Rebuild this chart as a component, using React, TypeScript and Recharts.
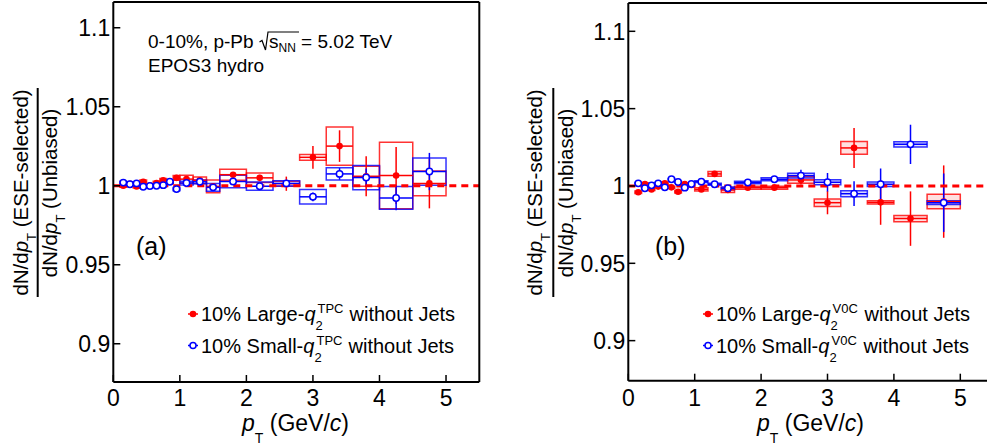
import React from 'react';
import { ScatterChart, Scatter, XAxis, YAxis, ErrorBar, ReferenceArea, ReferenceLine } from 'recharts';

// pT bins (GeV/c): centres and half widths
const ptCenters = [0.15, 0.25, 0.35, 0.45, 0.55, 0.65, 0.75, 0.85, 0.95, 1.1, 1.3, 1.5, 1.8, 2.2, 2.6, 3.0, 3.4, 3.8, 4.25, 4.75];
const ptHalfWidths = [0.05, 0.05, 0.05, 0.05, 0.05, 0.05, 0.05, 0.05, 0.05, 0.1, 0.1, 0.1, 0.2, 0.2, 0.2, 0.2, 0.2, 0.2, 0.25, 0.25];

const xTicks = [0, 1, 2, 3, 4, 5];
const yTicks = [0.9, 0.95, 1, 1.05, 1.1];

// (a) TPC selection
const aLargeVal = [1.0, 1.0013, 0.9996, 1.0025, 1.0002, 1.0017, 1.0034, 1.0025, 1.005, 1.0042, 1.0035, 0.9996, 1.007, 1.005, 1.0013, 1.018, 1.0251, 1.006, 1.0065, 1.0015];
const aLargeStat = [0.0006, 0.0006, 0.0006, 0.0006, 0.0006, 0.0006, 0.0007, 0.0007, 0.0008, 0.0009, 0.0011, 0.0013, 0.0016, 0.0019, 0.0045, 0.0072, 0.01, 0.0127, 0.018, 0.0158];
const aLargeSys = [0.001, 0.001, 0.001, 0.0012, 0.001, 0.0012, 0.0012, 0.0012, 0.0015, 0.0025, 0.002, 0.004, 0.0035, 0.003, 0.0016, 0.0018, 0.0121, 0.0063, 0.021, 0.0079];

const aSmallVal = [1.002, 1.001, 1.0015, 0.9994, 0.9998, 1.0, 1.0004, 1.0025, 0.9979, 1.0017, 1.0025, 0.999, 1.0027, 0.9997, 1.0015, 0.993, 1.0075, 1.0052, 0.9923, 1.009];
const aSmallStat = [0.0005, 0.0005, 0.0005, 0.0005, 0.0005, 0.0005, 0.0006, 0.0006, 0.0007, 0.0008, 0.001, 0.0012, 0.0014, 0.0017, 0.0022, 0.0028, 0.0037, 0.0058, 0.0078, 0.0118];
const aSmallSys = [0.0008, 0.0008, 0.0008, 0.0008, 0.0008, 0.0008, 0.0008, 0.0009, 0.001, 0.0012, 0.0012, 0.0024, 0.004, 0.0026, 0.0017, 0.0046, 0.0039, 0.0077, 0.0072, 0.0086];

// (b) V0C selection
const bLargeVal = [0.9959, 1.0013, 0.9978, 0.9996, 1.0017, 0.9991, 0.9963, 1.0013, 1.0006, 0.9978, 1.0078, 0.9974, 0.9989, 0.9989, 1.0039, 0.9892, 1.0246, 0.9894, 0.9789, 0.9899];
const bLargeStat = [0.0007, 0.0007, 0.0007, 0.0007, 0.0007, 0.0007, 0.0008, 0.0008, 0.0009, 0.001, 0.0012, 0.0015, 0.0015, 0.002, 0.003, 0.0075, 0.0129, 0.0145, 0.0176, 0.0234];
const bLargeSys = [0.0008, 0.0008, 0.0008, 0.0008, 0.0008, 0.0008, 0.0008, 0.0008, 0.0008, 0.001, 0.0015, 0.0016, 0.001, 0.001, 0.0022, 0.0024, 0.0041, 0.0011, 0.002, 0.0047];

const bSmallVal = [1.0017, 0.9985, 1.0004, 1.0017, 0.9991, 1.0043, 1.0026, 0.9989, 1.0013, 1.0028, 1.0011, 0.9985, 1.0022, 1.0043, 1.0067, 1.0024, 0.995, 1.0011, 1.0269, 0.9892];
const bSmallStat = [0.0006, 0.0006, 0.0006, 0.0006, 0.0006, 0.0006, 0.0006, 0.0007, 0.0007, 0.0008, 0.0009, 0.0012, 0.0014, 0.002, 0.0038, 0.006, 0.008, 0.0102, 0.0127, 0.0189];
const bSmallSys = [0.0005, 0.0005, 0.0005, 0.0005, 0.0005, 0.0005, 0.0005, 0.0005, 0.0005, 0.0006, 0.0006, 0.0008, 0.0008, 0.001, 0.0015, 0.0016, 0.0019, 0.0014, 0.0017, 0.0012];

const RED = '#ff0000';
const BLUE = '#0000ff';
const FONT = '"Liberation Sans", Arial, Helvetica, sans-serif';

type Series = { vals: number[]; stat: number[]; sys: number[]; color: string; open: boolean };

const makeRows = (s: Series) =>
  ptCenters.map((pt, i) => ({ x: pt, y: s.vals[i], stat: s.stat[i], bin: ptHalfWidths[i], sys: s.sys[i] }));

// tick labels drawn by hand so the font size sticks
const XTick = (p: any) => (
  <text x={p.x} y={p.y} dy="0.71em" textAnchor="middle" fontFamily={FONT} fontSize={23} fill="#000">
    {p.payload.value}
  </text>
);
const YTick = (p: any) => (
  <text x={p.x} y={p.y} dy="0.36em" textAnchor="end" fontFamily={FONT} fontSize={23} fill="#000">
    {p.payload.value}
  </text>
);

function Panel(props: {
  left: number;
  margin: { top: number; right: number; bottom: number; left: number };
  yDomain: [number, number];
  series: Series[];
  boxOpacity: number;
  xTickMargin: number;
}) {
  const { left, margin, yDomain, series, boxOpacity, xTickMargin } = props;
  const axisLine = { stroke: '#000', strokeWidth: 2 };
  const tickLine = { stroke: '#000', strokeWidth: 1.5 };
  return (
    <div style={{ position: 'absolute', left, top: 0 }}>
      <ScatterChart width={500} height={448} margin={margin}>
        <XAxis xAxisId="b" type="number" dataKey="x" domain={[0, 5.5]} ticks={xTicks} interval={0}
          height={40} tickSize={-7} tickMargin={xTickMargin} axisLine={axisLine} tickLine={tickLine}
          tick={XTick} allowDataOverflow />
        <XAxis xAxisId="t" orientation="top" type="number" domain={[0, 5.5]} ticks={xTicks} interval={0}
          height={1} tickSize={-7} axisLine={axisLine} tickLine={tickLine} tick={false} allowDataOverflow />
        <YAxis yAxisId="l" type="number" dataKey="y" domain={yDomain} ticks={yTicks} interval={0}
          width={70} tickSize={-7} tickMargin={10} axisLine={axisLine} tickLine={tickLine}
          tick={YTick} allowDataOverflow />
        <YAxis yAxisId="r" orientation="right" type="number" domain={yDomain} ticks={yTicks} interval={0}
          width={1} tickSize={-7} axisLine={axisLine} tickLine={tickLine} tick={false} allowDataOverflow />
        {series.map((s, si) =>
          makeRows(s).map((r, i) => (
            <ReferenceArea key={`box-${si}-${i}`} xAxisId="b" yAxisId="l"
              x1={r.x - r.bin} x2={r.x + r.bin} y1={r.y - r.sys} y2={r.y + r.sys}
              fill={s.color} fillOpacity={boxOpacity} stroke={s.color} strokeOpacity={0.8} strokeWidth={1.5} />
          ))
        )}
        {series.map((s, si) => (
          <Scatter key={`s-${si}`} xAxisId="b" yAxisId="l" data={makeRows(s)} isAnimationActive={false}
            shape={(p: any) =>
              s.open ? (
                <circle cx={p.cx} cy={p.cy} r={3.2} fill="#fff" stroke={s.color} strokeWidth={1.5} />
              ) : (
                <circle cx={p.cx} cy={p.cy} r={3.3} fill={s.color} />
              )
            }>
            <ErrorBar dataKey="stat" direction="y" width={0} stroke={s.color} strokeWidth={1.5} />
            <ErrorBar dataKey="bin" direction="x" width={0} stroke={s.color} strokeWidth={1.5} />
          </Scatter>
        ))}
        <ReferenceLine xAxisId="b" yAxisId="l" y={1} stroke={RED} strokeWidth={3} strokeDasharray="7 5" />
      </ScatterChart>
    </div>
  );
}

function YLabel({ numBase, barX, denBase }: { numBase: number; barX: number; denBase: number }) {
  return (
    <g fontFamily={FONT} fontSize={20.5} fill="#000">
      <text transform="rotate(-90)" x={-192.5} y={numBase} textAnchor="middle">
        dN/d<tspan fontStyle="italic">p</tspan>
        <tspan fontSize={13} dy={8}>T</tspan>
        <tspan dy={-8}> (ESE-selected)</tspan>
      </text>
      <line x1={barX} x2={barX} y1={88} y2={297} stroke="#000" strokeWidth={2} />
      <text transform="rotate(-90)" x={-193} y={denBase} textAnchor="middle">
        dN/d<tspan fontStyle="italic">p</tspan>
        <tspan fontSize={13} dy={8}>T</tspan>
        <tspan dy={-8}> (Unbiased)</tspan>
      </text>
    </g>
  );
}

function XLabel({ x }: { x: number }) {
  return (
    <text x={x} y={431} fontFamily={FONT} fontSize={23} fill="#000">
      <tspan fontStyle="italic">p</tspan>
      <tspan fontSize={14} dy={12}>T</tspan>
      <tspan dy={-12}> (GeV/</tspan>
      <tspan fontStyle="italic">c</tspan>
      <tspan>)</tspan>
    </text>
  );
}

function LegendRow({ x, y, label, sup, color, open }: { x: number; y: number; label: string; sup: string; color: string; open: boolean }) {
  const qEnd = x + 8 + (label === 'Large' ? 114.5 : 113.5);
  return (
    <g fontFamily={FONT} fill="#000">
      <line x1={x - 5} x2={x + 5} y1={y} y2={y} stroke={color} strokeWidth={1.5} />
      {open ? (
        <circle cx={x} cy={y} r={3} fill="#fff" stroke={color} strokeWidth={1.5} />
      ) : (
        <circle cx={x} cy={y} r={3.3} fill={color} />
      )}
      <text x={x + 8} y={y + 7} fontSize={20}>
        10% {label}-<tspan fontStyle="italic">q</tspan>
      </text>
      <text x={qEnd + 2} y={y - 1} fontSize={13}>{sup}</text>
      <text x={qEnd} y={y + 16} fontSize={13}>2</text>
      <text x={qEnd + 34} y={y + 7} fontSize={20}>without Jets</text>
    </g>
  );
}

export default function App() {
  const largeA: Series = { vals: aLargeVal, stat: aLargeStat, sys: aLargeSys, color: RED, open: false };
  const smallA: Series = { vals: aSmallVal, stat: aSmallStat, sys: aSmallSys, color: BLUE, open: true };
  const largeB: Series = { vals: bLargeVal, stat: bLargeStat, sys: bLargeSys, color: RED, open: false };
  const smallB: Series = { vals: bSmallVal, stat: bSmallStat, sys: bSmallSys, color: BLUE, open: true };

  return (
    <div style={{ position: 'absolute', left: 0, top: 0, width: 987, height: 448, overflow: 'hidden', background: '#fff' }}>
      <Panel left={0} margin={{ top: 1, right: 19.7, bottom: 26, left: 43.3 }} yDomain={[0.8758, 1.1163]}
        series={[largeA, smallA]} boxOpacity={0} xTickMargin={15} />
      <Panel left={500} margin={{ top: 2, right: 5.5, bottom: 27.3, left: 58.3 }} yDomain={[0.8741, 1.1183]}
        series={[largeB, smallB]} boxOpacity={0.12} xTickMargin={16} />
      <svg width={987} height={448} style={{ position: 'absolute', left: 0, top: 0, pointerEvents: 'none' }}>
        <YLabel numBase={27.5} barX={37.7} denBase={57} />
        <YLabel numBase={542} barX={553.3} denBase={572.5} />
        <XLabel x={242} />
        <XLabel x={757} />
        <g fontFamily={FONT} fontSize={19} fill="#000">
          <text x={148} y={47.5}>0-10%, p-Pb</text>
          <path d="M259.5,42 L262,40.5 L265.5,50 L268,32 L299,32" fill="none" stroke="#000" strokeWidth={1.2} />
          <text x={269} y={47.5}>
            s<tspan fontSize={12} dy={4}>NN</tspan>
            <tspan dy={-4}> = 5.02 TeV</tspan>
          </text>
          <text x={148} y={71.5}>EPOS3 hydro</text>
        </g>
        <text x={136} y={255} fontFamily={FONT} fontSize={25} fill="#000">(a)</text>
        <text x={655} y={255} fontFamily={FONT} fontSize={25} fill="#000">(b)</text>
        <LegendRow x={193} y={314} label="Large" sup="TPC" color={RED} open={false} />
        <LegendRow x={193} y={345.5} label="Small" sup="TPC" color={BLUE} open={true} />
        <LegendRow x={708} y={314} label="Large" sup="V0C" color={RED} open={false} />
        <LegendRow x={708} y={345.5} label="Small" sup="V0C" color={BLUE} open={true} />
      </svg>
    </div>
  );
}
